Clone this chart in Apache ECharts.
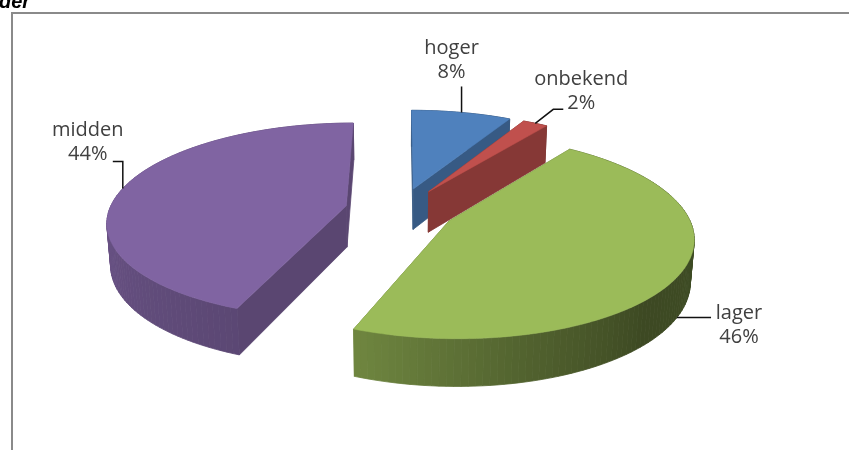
<!DOCTYPE html>
<html>
<head>
<meta charset="utf-8">
<title>Opleidingsniveau</title>
<script src="https://cdn.jsdelivr.net/npm/echarts@6/dist/echarts.min.js"></script>
<style>
  html, body { margin: 0; padding: 0; background: #ffffff; }
  #chart { width: 849px; height: 450px; }
</style>
</head>
<body>
<div id="chart"></div>
<script>
// Slices, clockwise from 12 o'clock
const categories = ['hoger', 'onbekend', 'lager', 'midden'];
const shares = [8, 2, 46, 44];
const palette = ['#4f81bd', '#c0504d', '#9bbb59', '#8064a2'];

// Label block centre and leader bends, relative to the leader's anchor on the slice
const labelLayout = {
  hoger:    { text: [-10, -52], bends: [[0, -26]] },
  onbekend: { text: [46, -32],  bends: [[18, -14], [28, -14]] },
  lager:    { text: [62, 8],    bends: [[34, 0]] },
  midden:   { text: [-35, -46], bends: [[0, -27], [-10, -27]] }
};

// Perspective view of the pie disc
const VIEW = { cx: 400, cy: 210, radius: 237, tiltDeg: 24, dist: 1438, depth: 46, explode: 55 };
// brightness of the rim wall by compass angle of its normal
const SIDE_LIGHT = [[0, 0.6], [90, 0.41], [135, 0.39], [165, 0.52], [200, 0.71], [240, 0.78], [270, 0.84], [360, 0.7]];
const CUT_LIGHT = 0.7;

const RAD = Math.PI / 180;

function project(u, w, h) {
  const t = VIEW.tiltDeg * RAD, s = Math.sin(t), c = Math.cos(t);
  const z = VIEW.dist + w * c - h * s;
  const k = VIEW.dist / z;
  return { p: [VIEW.cx + u * k, VIEW.cy - (w * s + h * c) * k], z: z };
}

function sideLight(deg) {
  deg = ((deg % 360) + 360) % 360;
  for (let i = 1; i < SIDE_LIGHT.length; i++) {
    const a = SIDE_LIGHT[i - 1], b = SIDE_LIGHT[i];
    if (deg <= b[0]) {
      const f = (deg - a[0]) / (b[0] - a[0]);
      return a[1] + (b[1] - a[1]) * f;
    }
  }
  return SIDE_LIGHT[SIDE_LIGHT.length - 1][1];
}

function shade(hex, f) {
  const n = parseInt(hex.slice(1), 16);
  const r = Math.round(((n >> 16) & 255) * f);
  const g = Math.round(((n >> 8) & 255) * f);
  const b = Math.round((n & 255) * f);
  return 'rgb(' + r + ',' + g + ',' + b + ')';
}

const total = shares.reduce((a, b) => a + b, 0);
const startAngles = [];
(function () {
  let acc = 0;
  shares.forEach(v => { startAngles.push(acc / total * 360); acc += v; });
})();

// painter's order: slices whose centre lies further back are drawn first
function sliceCentre(i) {
  const a0 = startAngles[i], a1 = a0 + shares[i] / total * 360;
  const mid = (a0 + a1) / 2 * RAD;
  return { a0: a0, a1: a1, mid: mid, u0: VIEW.explode * Math.sin(mid), w0: VIEW.explode * Math.cos(mid) };
}
const drawRank = shares.map((v, i) => i)
  .sort((a, b) => sliceCentre(b).w0 - sliceCentre(a).w0)
  .reduce((acc, idx, r) => { acc[idx] = r; return acc; }, {});

function renderSlice(params, api) {
  const i = params.dataIndex;
  const value = api.value(0);
  const name = categories[i];
  const color = palette[i];
  const g = sliceCentre(i);
  const R = VIEW.radius, d = VIEW.depth;
  const rim = (deg, h) => project(g.u0 + R * Math.sin(deg * RAD), g.w0 + R * Math.cos(deg * RAD), h);
  const ctr = h => project(g.u0, g.w0, h);
  const base = drawRank[i] * 1000;

  const walls = [];
  // rim wall in thin strips
  const steps = Math.max(2, Math.ceil((g.a1 - g.a0) / 1.5));
  for (let k = 0; k < steps; k++) {
    const t0 = g.a0 + (g.a1 - g.a0) * k / steps;
    const t1 = g.a0 + (g.a1 - g.a0) * (k + 1) / steps;
    const p = [rim(t0, 0), rim(t1, 0), rim(t1, -d), rim(t0, -d)];
    const fill = shade(color, sideLight((t0 + t1) / 2));
    walls.push({ pts: p.map(q => q.p), z: p.reduce((s, q) => s + q.z, 0) / 4, fill: fill, stroke: fill });
  }
  // the two cut faces
  [g.a0, g.a1].forEach(t => {
    const p = [ctr(0), rim(t, 0), rim(t, -d), ctr(-d)];
    const fill = shade(color, CUT_LIGHT);
    walls.push({ pts: p.map(q => q.p), z: p.reduce((s, q) => s + q.z, 0) / 4, fill: fill, stroke: fill });
  });
  walls.sort((a, b) => b.z - a.z);

  const children = walls.map((wl, k) => ({
    type: 'polygon',
    shape: { points: wl.pts },
    style: { fill: wl.fill, stroke: wl.stroke, lineWidth: 0.8 },
    z2: base + k
  }));

  // top face
  const top = [ctr(0).p];
  const arcSteps = Math.max(4, Math.ceil((g.a1 - g.a0) / 1));
  for (let k = 0; k <= arcSteps; k++) top.push(rim(g.a0 + (g.a1 - g.a0) * k / arcSteps, 0).p);
  children.push({
    type: 'polygon',
    shape: { points: top },
    style: { fill: color, stroke: color, lineWidth: 0.5 },
    z2: base + 900
  });

  // data label with leader
  const midDeg = g.mid / RAD;
  const anchor = rim(midDeg, Math.cos(g.mid) < 0 ? -d : 0).p;
  const lay = labelLayout[name];
  const line = [anchor].concat(lay.bends.map(b => [anchor[0] + b[0], anchor[1] + b[1]]));
  children.push({
    type: 'polyline',
    shape: { points: line },
    style: { stroke: '#111111', lineWidth: 1.5, fill: null },
    z2: 50000
  });
  children.push({
    type: 'text',
    style: {
      text: name + '\n' + value + '%',
      x: anchor[0] + lay.text[0],
      y: anchor[1] + lay.text[1],
      align: 'center',
      verticalAlign: 'middle',
      font: '20px "Open Sans"',
      lineHeight: 24,
      fill: '#404040'
    },
    z2: 50001
  });

  return { type: 'group', children: children };
}

const chart = echarts.init(document.getElementById('chart'), null, { renderer: 'canvas' });
chart.setOption({
  animation: false,
  graphic: [
    {
      type: 'rect',
      shape: { x: 12, y: 13, width: 900, height: 500 },
      style: { fill: 'none', stroke: '#8a8a8a', lineWidth: 2 },
      silent: true
    },
    {
      type: 'text',
      style: {
        text: 'der',
        x: -1,
        y: 12,
        verticalAlign: 'bottom',
        font: 'italic bold 20px "Liberation Sans"',
        fill: '#000000'
      },
      silent: true
    }
  ],
  series: [{
    type: 'custom',
    coordinateSystem: 'none',
    silent: true,
    data: shares.map((v, i) => ({ name: categories[i], value: v })),
    renderItem: renderSlice
  }]
});
</script>
</body>
</html>
